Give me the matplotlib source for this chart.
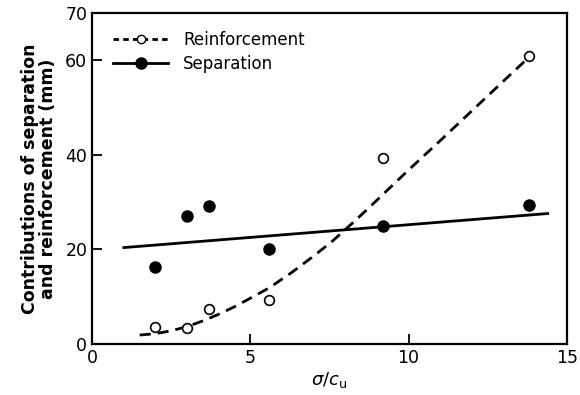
import matplotlib
matplotlib.use("Agg")
import matplotlib.pyplot as plt

# -------------------------------
# Data
# -------------------------------
ratio_pts = [2.0, 3.0, 3.7, 5.6, 9.2, 13.8]
reinf_pts = [3.6, 3.4, 7.4, 9.4, 39.4, 60.9]
sep_pts = [16.2, 27.0, 29.1, 20.2, 24.9, 29.4]

# fitted lines as drawn in the original
sep_fit_x = [1.0, 14.4]
sep_fit_y = [20.4, 27.6]
reinf_fit_x = [1.5, 2.0, 2.5, 3.0, 3.5, 4.0, 4.5, 5.0, 5.6, 6.3, 7.0, 7.6, 8.1, 8.7, 9.2, 10.0, 11.0, 12.0, 13.0, 13.8]
reinf_fit_y = [1.9, 2.2, 2.8, 3.7, 4.9, 6.3, 7.9, 9.7, 11.9, 15.1, 18.6, 21.8, 24.8, 28.5, 31.7, 36.8, 43.0, 49.3, 55.6, 60.6]

x_ticks = [0, 5, 10, 15]
y_ticks = [0, 20, 40, 60, 70]

# -------------------------------
# Plot
# -------------------------------
plt.rcParams['font.family'] = ['DejaVu Sans']
fig = plt.figure(figsize=(5.8, 3.95), dpi=100)
ax = fig.add_axes([0.159, 0.129, 0.818, 0.838])

ax.plot(reinf_fit_x, reinf_fit_y, color='black', lw=2, ls=(0, (4, 2.5)))
ax.plot(sep_fit_x, sep_fit_y, color='black', lw=2)
ax.plot(ratio_pts, reinf_pts, 'o', ms=7, mfc='white', mec='black', mew=1.2)
ax.plot(ratio_pts, sep_pts, 'o', ms=8, color='black')

# legend handles
ax.plot([], [], color='black', lw=2, ls=(0, (2, 1.5)), marker='o', ms=6,
        mfc='white', mec='black', label='Reinforcement')
ax.plot([], [], color='black', lw=2, marker='o', ms=8, label='Separation')
h, l = ax.get_legend_handles_labels()
ax.legend(h, l, loc='upper left', frameon=False, fontsize=12, handlelength=3.3,
          handletextpad=0.9, borderaxespad=0.0, labelspacing=0.35,
          bbox_to_anchor=(0.03, 0.965))

ax.set_xlim(0, 15)
ax.set_ylim(0, 70)
ax.set_xticks(x_ticks)
ax.set_yticks(y_ticks)
ax.tick_params(direction='in', length=7, width=1.3, labelsize=12.5, top=False, right=False)
for s in ax.spines.values():
    s.set_linewidth(1.6)

ax.set_xlabel(r'$\sigma/c_{\mathrm{u}}$', fontsize=13, labelpad=2)
ax.set_ylabel('Contributions of separation\nand reinforcement (mm)', fontsize=12.5,
              fontweight='bold', labelpad=6, linespacing=1.0)

fig.savefig('out.png', dpi=100)
